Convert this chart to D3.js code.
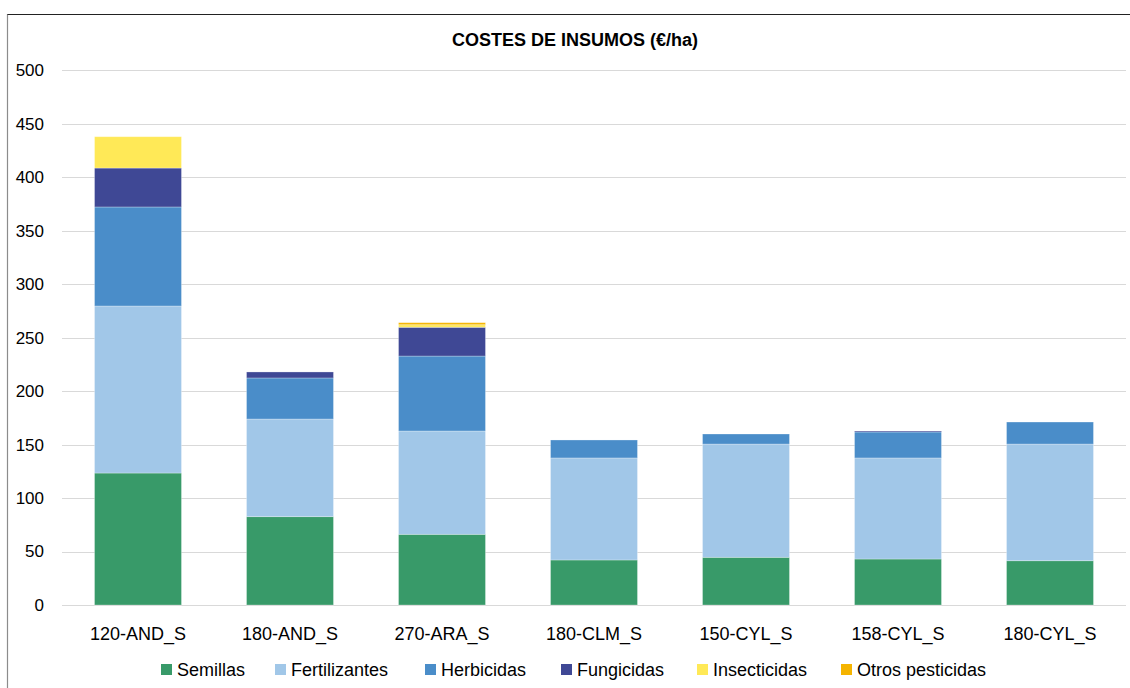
<!DOCTYPE html>
<html>
<head>
<meta charset="utf-8">
<title>Costes de insumos</title>
<script src="https://d3js.org/d3.v7.min.js"></script>
<style>
body { margin:0; background:#fff; }
text { font-family:"Liberation Sans", Arial, sans-serif; fill:#000; }
</style>
</head>
<body>
<svg id="chart" width="1130" height="688"></svg>
<script>
// datos
var categorias = ["120-AND_S","180-AND_S","270-ARA_S","180-CLM_S","150-CYL_S","158-CYL_S","180-CYL_S"];
var series = ["Semillas","Fertilizantes","Herbicidas","Fungicidas","Insecticidas","Otros pesticidas"];
var semillas      = [123.4, 82.6, 66.1, 42.1, 44.6, 43.0, 41.4];
var fertilizantes = [156.2, 91.3, 96.6, 95.4, 105.9, 94.5, 109.1];
var herbicidas    = [92.6, 38.4, 70.1, 16.8, 9.4, 24.3, 20.6];
var fungicidas    = [36.4, 5.6, 26.9, 0, 0, 0.9, 0];
var insecticidas  = [29.3, 0, 2.4, 0, 0, 0, 0];
var otros         = [0, 0, 1.9, 0, 0, 0, 0];
var yTicks = [0,50,100,150,200,250,300,350,400,450,500];
var colores = ["#389a69","#a1c7e8","#4a8dc9","#3f4895","#ffe957","#f5b400"];

var valores = [semillas, fertilizantes, herbicidas, fungicidas, insecticidas, otros];
var tabla = categorias.map(function(c, i) {
  var o = {cat: c};
  series.forEach(function(s, j) { o[s] = valores[j][i]; });
  return o;
});

var svg = d3.select("#chart");
var mLeft = 62, mRight = 1126, mTop = 70.3, mBottom = 605;

// marco
svg.append("line").attr("x1",7.5).attr("x2",7.5).attr("y1",14).attr("y2",688).attr("stroke","#8c8c8c").attr("stroke-width",1.2);
svg.append("line").attr("x1",7.5).attr("x2",1130).attr("y1",14.5).attr("y2",14.5).attr("stroke","#222").attr("stroke-width",1.2);

var x = d3.scaleBand().domain(categorias).range([mLeft, mRight]).paddingInner(0.428).paddingOuter(0.214);
var y = d3.scaleLinear().domain([0, 500]).range([mBottom, mTop]);

// rejilla
svg.append("g").selectAll("line").data(yTicks).join("line")
  .attr("x1", mLeft).attr("x2", mRight)
  .attr("y1", function(d){ return Math.round(y(d)) + 0.5; })
  .attr("y2", function(d){ return Math.round(y(d)) + 0.5; })
  .attr("stroke", "#d9d9d9").attr("stroke-width", 1);

var yAxis = svg.append("g").attr("transform", "translate(" + mLeft + ",0)")
  .call(d3.axisLeft(y).tickValues(yTicks).tickSize(0).tickPadding(18));
yAxis.select(".domain").remove();
yAxis.selectAll("text").style("font-size", "17px").attr("font-family", "Liberation Sans, Arial, sans-serif").attr("fill","#000");

var xAxis = svg.append("g").attr("transform", "translate(0," + mBottom + ")")
  .call(d3.axisBottom(x).tickSize(0).tickPadding(22));
xAxis.select(".domain").remove();
xAxis.selectAll("text").style("font-size", "18px").attr("font-family", "Liberation Sans, Arial, sans-serif").attr("fill","#000");

// barras apiladas
var stack = d3.stack().keys(series)(tabla);
svg.append("g").selectAll("g").data(stack).join("g")
  .attr("fill", function(d, i){ return colores[i]; })
  .selectAll("rect").data(function(d){ return d; }).join("rect")
  .attr("x", function(d){ return x(d.data.cat); })
  .attr("width", x.bandwidth())
  .attr("y", function(d){ return y(d[1]); })
  .attr("height", function(d){ return Math.max(0, y(d[0]) - y(d[1])); })
  .attr("stroke", "#ffffff").attr("stroke-opacity", 0.35).attr("stroke-width", 0.8);

// titulo
svg.append("text").attr("x", 575).attr("y", 46).attr("text-anchor", "middle")
  .style("font-size", "18px").style("font-weight", "bold").text("COSTES DE INSUMOS (€/ha)");

// leyenda
var legX = [161, 275, 425, 561, 697, 841];
var leg = svg.append("g").selectAll("g").data(series).join("g")
  .attr("transform", function(d, i){ return "translate(" + legX[i] + ",664)"; });
leg.append("rect").attr("width", 11).attr("height", 11).attr("fill", function(d, i){ return colores[i]; });
leg.append("text").attr("x", 16).attr("y", 11.5).style("font-size", "18px").text(function(d){ return d; });
</script>
</body>
</html>
